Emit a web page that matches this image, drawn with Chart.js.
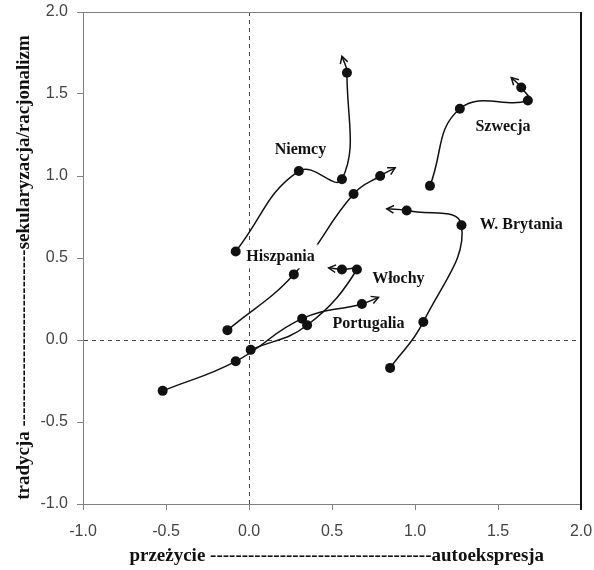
<!DOCTYPE html>
<html>
<head>
<meta charset="utf-8">
<script src="https://cdn.jsdelivr.net/npm/chart.js@4/dist/chart.umd.min.js"></script>
<style>
  html, body { margin: 0; padding: 0; background: #fff; }
  #wrap { width: 594px; height: 570px; }
</style>
</head>
<body>
<div id="wrap"><canvas id="chart"></canvas></div>
<script>
// Trajectories (last entry of each = arrow tip)
const seriesNames = ["Niemcy", "Szwecja", "W. Brytania", "Hiszpania", "Włochy", "Portugalia"];

const niemcyX = [-0.08, 0.30, 0.56, 0.59, 0.56];
const niemcyY = [0.54, 1.03, 0.98, 1.63, 1.73];

const szwecjaX = [1.09, 1.27, 1.68, 1.64, 1.58];
const szwecjaY = [0.94, 1.41, 1.46, 1.54, 1.60];

const brytaniaX = [0.85, 1.05, 1.28, 0.95, 0.83];
const brytaniaY = [-0.17, 0.11, 0.70, 0.79, 0.80];

const hiszpaniaX = [-0.13, 0.27, 0.63, 0.79, 0.88];
const hiszpaniaY = [0.06, 0.40, 0.89, 1.00, 1.05];

const wlochyX = [0.01, 0.35, 0.65, 0.56, 0.48];
const wlochyY = [-0.06, 0.09, 0.43, 0.43, 0.44];

const portugaliaX = [-0.52, -0.08, 0.32, 0.68, 0.78];
const portugaliaY = [-0.31, -0.13, 0.13, 0.22, 0.26];

// where the country names sit (data units)
const labelX = [0.31, 1.53, 1.64, 0.19, 0.90, 0.72];
const labelY = [1.16, 1.30, 0.70, 0.51, 0.37, 0.10];

const xTicks = [-1.0, -0.5, 0.0, 0.5, 1.0, 1.5, 2.0];
const yTicks = [-1.0, -0.5, 0.0, 0.5, 1.0, 1.5, 2.0];

const xTitle = "  przeżycie -----------------------------------autoekspresja";
const yTitle = "tradycja ----------------------------sekularyzacja/racjonalizm    ";

const allX = [niemcyX, szwecjaX, brytaniaX, hiszpaniaX, wlochyX, portugaliaX];
const allY = [niemcyY, szwecjaY, brytaniaY, hiszpaniaY, wlochyY, portugaliaY];

const datasets = seriesNames.map((name, i) => ({
  label: name,
  data: allX[i].map((x, j) => ({ x: x, y: allY[i][j] })),
  showLine: true,
  borderColor: "#111",
  borderWidth: 1.5,
  backgroundColor: "#111",
  tension: 0.45,
  pointRadius: (ctx) => (ctx.dataIndex === ctx.dataset.data.length - 1 ? 0 : 5),
  pointBorderWidth: 0,
  pointHoverRadius: 5,
}));

const gray = "#808080";
const zeroGrid = (ctx) => (ctx.tick && ctx.tick.value === 0 ? "#444" : "rgba(0,0,0,0)");

// arrowheads, frame and country names
const extras = {
  id: "extras",
  afterDatasetsDraw(chart) {
    const ctx = chart.ctx;
    const xs = chart.scales.x;
    const ys = chart.scales.y;

    // arrowheads at the end of each trajectory
    chart.data.datasets.forEach((ds, i) => {
      const meta = chart.getDatasetMeta(i);
      const n = meta.data.length;
      const tip = meta.data[n - 1];
      const prev = meta.data[n - 2];
      const useCp = tip.cp1x !== undefined && (tip.cp1x !== tip.x || tip.cp1y !== tip.y);
      const bx = useCp ? tip.cp1x : prev.x;
      const by = useCp ? tip.cp1y : prev.y;
      const a = Math.atan2(tip.y - by, tip.x - bx);
      const len = 8;
      const spread = 0.5;
      ctx.save();
      ctx.strokeStyle = "#111";
      ctx.lineWidth = 1.5;
      ctx.beginPath();
      ctx.moveTo(tip.x - len * Math.cos(a - spread), tip.y - len * Math.sin(a - spread));
      ctx.lineTo(tip.x, tip.y);
      ctx.lineTo(tip.x - len * Math.cos(a + spread), tip.y - len * Math.sin(a + spread));
      ctx.stroke();
      ctx.restore();
    });

    // country names on a white patch
    ctx.save();
    ctx.font = 'bold 16px "Liberation Serif", "Times New Roman", serif';
    ctx.textAlign = "center";
    ctx.textBaseline = "middle";
    seriesNames.forEach((name, i) => {
      const px = xs.getPixelForValue(labelX[i]);
      const py = ys.getPixelForValue(labelY[i]);
      const w = ctx.measureText(name).width;
      ctx.fillStyle = "#fff";
      ctx.fillRect(px - w / 2 - 3, py - 12, w + 6, 24);
      ctx.fillStyle = "#111";
      ctx.fillText(name, px, py);
    });
    ctx.restore();
  },
  afterDraw(chart) {
    const { ctx, chartArea } = chart;
    ctx.save();
    ctx.strokeStyle = gray;
    ctx.lineWidth = 1;
    ctx.beginPath();
    ctx.moveTo(chartArea.left, chartArea.top + 0.5);
    ctx.lineTo(chartArea.right, chartArea.top + 0.5);
    ctx.stroke();
    ctx.strokeStyle = "#111";
    ctx.lineWidth = 2;
    ctx.beginPath();
    ctx.moveTo(chartArea.right, chartArea.top);
    ctx.lineTo(chartArea.right, chartArea.bottom + 6);
    ctx.stroke();
    ctx.restore();
  },
};

new Chart(document.getElementById("chart"), {
  type: "scatter",
  data: { datasets: datasets },
  plugins: [extras],
  options: {
    responsive: true,
    maintainAspectRatio: false,
    animation: false,
    layout: { padding: { top: 12, right: 13, left: 0, bottom: 0 } },
    plugins: {
      legend: { display: false },
      tooltip: { enabled: false },
    },
    scales: {
      x: {
        type: "linear",
        min: -1,
        max: 2,
        afterFit: (scale) => {
          scale.height = 66;
          scale.paddingLeft = 0;
          scale.paddingRight = 0;
        },
        afterBuildTicks: (scale) => { scale.ticks = xTicks.map((v) => ({ value: v })); },
        ticks: {
          callback: (v) => Number(v).toFixed(1),
          color: "#444",
          font: { family: '"Liberation Sans", Arial, sans-serif', size: 16 },
          padding: 12,
          maxRotation: 0,
          autoSkip: false,
        },
        grid: {
          color: zeroGrid,
          lineWidth: 1,
          tickColor: gray,
          tickLength: 6,
        },
        border: { color: gray, width: 1, dash: [4, 4] },
        title: {
          display: true,
          text: xTitle,
          color: "#111",
          font: { family: '"Liberation Serif", "Times New Roman", serif', size: 19, weight: "bold" },
          padding: { top: 0, bottom: 3 },
        },
      },
      y: {
        type: "linear",
        min: -1,
        max: 2,
        afterFit: (scale) => {
          scale.width = 83;
          scale.paddingTop = 0;
          scale.paddingBottom = 0;
        },
        afterBuildTicks: (scale) => { scale.ticks = yTicks.map((v) => ({ value: v })); },
        ticks: {
          callback: (v) => Number(v).toFixed(1),
          color: "#444",
          font: { family: '"Liberation Sans", Arial, sans-serif', size: 16 },
          padding: 9,
          autoSkip: false,
        },
        grid: {
          color: zeroGrid,
          lineWidth: 1,
          tickColor: gray,
          tickLength: 6,
        },
        border: { color: gray, width: 1, dash: [4, 4] },
        title: {
          display: true,
          text: yTitle,
          color: "#111",
          font: { family: '"Liberation Serif", "Times New Roman", serif', size: 19, weight: "bold" },
          padding: { top: 13, bottom: 0 },
        },
      },
    },
  },
});
</script>
</body>
</html>
